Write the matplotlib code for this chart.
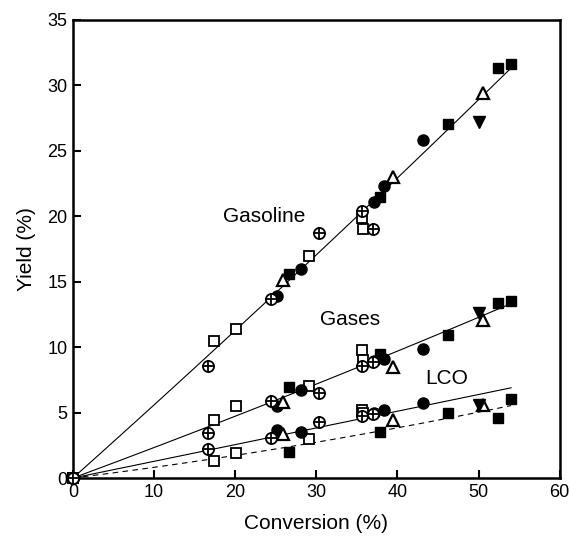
import numpy as np
import matplotlib.pyplot as plt

plt.rcParams['font.family'] = ['Liberation Sans', 'DejaVu Sans']

# conversion (%) and product yields (%) for each catalyst series
sq_open_conv = [0, 17.4, 20.1, 29.1, 35.6, 35.7]
sq_open_gasoline = [0, 10.5, 11.4, 17.0, 19.85, 19.0]
sq_open_gases = [0, 4.4, 5.5, 7.05, 9.78, 9.0]
sq_open_lco = [0, 1.33, 1.88, 2.95, 5.2, 5.0]

sq_fill_conv = [26.6, 37.8, 46.2, 52.4, 54.0]
sq_fill_gasoline = [15.55, 21.5, 27.05, 31.35, 31.6]
sq_fill_gases = [6.95, 9.5, 10.9, 13.4, 13.55]
sq_fill_lco = [2.0, 3.55, 4.94, 4.56, 6.0]

circ_conv = [25.1, 28.1, 37.1, 38.3, 43.2]
circ_gasoline = [13.9, 16.0, 21.1, 22.3, 25.8]
circ_gases = [5.53, 6.7, 8.95, 9.1, 9.83]
circ_lco = [3.67, 3.55, 5.0, 5.2, 5.7]

tri_conv = [25.9, 39.5, 50.6]
tri_gasoline = [15.1, 23.0, 29.4]
tri_gases = [5.83, 8.5, 12.1]
tri_lco = [3.33, 4.45, 5.6]

tri_dn_conv = [50.1]
tri_dn_gasoline = [27.2]
tri_dn_gases = [12.6]
tri_dn_lco = [5.6]

oplus_conv = [0, 16.6, 24.4, 30.3, 35.6, 37.0]
oplus_gasoline = [0, 8.56, 13.7, 18.7, 20.4, 19.05]
oplus_gases = [0, 3.46, 5.86, 6.47, 8.56, 8.9]
oplus_lco = [0, 2.2, 3.08, 4.3, 4.7, 4.9]


def fit_origin(xs, ys, deg=2):
    # polynomial without constant term, forced through the origin
    x = np.asarray(xs, float)
    y = np.asarray(ys, float)
    A = np.column_stack([x ** k for k in range(1, deg + 1)])
    coef, *_ = np.linalg.lstsq(A, y, rcond=None)
    return lambda t: sum(c * t ** (k + 1) for k, c in enumerate(coef))


fig = plt.figure(figsize=(5.70, 5.38), dpi=100)
ax = fig.add_axes([0.128, 0.1115, 0.854, 0.8515])

xx = np.linspace(0, 54, 200)

all_conv = sq_open_conv + sq_fill_conv + circ_conv + tri_conv + tri_dn_conv + oplus_conv
all_gasoline = sq_open_gasoline + sq_fill_gasoline + circ_gasoline + tri_gasoline + tri_dn_gasoline + oplus_gasoline
all_gases = sq_open_gases + sq_fill_gases + circ_gases + tri_gases + tri_dn_gases + oplus_gases

for ys in (all_gasoline, all_gases):
    f = fit_origin(all_conv, ys)
    ax.plot(xx, f(xx), color='black', lw=0.8)

# LCO: solid straight line through the upper group, dashed curve for the square series
lco_conv = circ_conv + tri_conv + tri_dn_conv + oplus_conv + sq_open_conv[4:]
lco_vals = circ_lco + tri_lco + tri_dn_lco + oplus_lco + sq_open_lco[4:]
f = fit_origin(lco_conv, lco_vals, deg=1)
ax.plot(xx, f(xx), color='black', lw=0.8)

dash_conv = sq_open_conv[:4] + sq_fill_conv
dash_vals = sq_open_lco[:4] + sq_fill_lco
f = fit_origin(dash_conv, dash_vals)
ax.plot(xx, f(xx), color='black', lw=0.8, ls=(0, (5, 4)))

kw = dict(ls='none', clip_on=False, zorder=3)
for ys_open, ys_fill, ys_circ, ys_tri, ys_dn, ys_op in [
        (sq_open_gasoline, sq_fill_gasoline, circ_gasoline, tri_gasoline, tri_dn_gasoline, oplus_gasoline),
        (sq_open_gases, sq_fill_gases, circ_gases, tri_gases, tri_dn_gases, oplus_gases),
        (sq_open_lco, sq_fill_lco, circ_lco, tri_lco, tri_dn_lco, oplus_lco)]:
    ax.plot(sq_open_conv, ys_open, marker='s', ms=7, mfc='white', mec='black', mew=1.3, **kw)
    ax.plot(sq_fill_conv, ys_fill, marker='s', ms=7, mfc='black', mec='black', **kw)
    ax.plot(circ_conv, ys_circ, marker='o', ms=8, mfc='black', mec='black', **kw)
    ax.plot(tri_conv, ys_tri, marker='^', ms=9, mfc='white', mec='black', mew=1.6, **kw)
    ax.plot(tri_dn_conv, ys_dn, marker='v', ms=9, mfc='black', mec='black', **kw)
    ax.plot(oplus_conv, ys_op, marker='o', ms=8, mfc='white', mec='black', mew=1.3, **kw)
    ax.plot(oplus_conv, ys_op, marker='+', ms=8, mec='black', mew=1.3, **kw)

ax.text(18.5, 20.0, 'Gasoline', fontsize=15, va='center', ha='left')
ax.text(30.4, 12.1, 'Gases', fontsize=15, va='center', ha='left')
ax.text(43.4, 7.6, 'LCO', fontsize=15, va='center', ha='left')

ax.set_xlim(0, 60)
ax.set_ylim(0, 35)
ax.set_xticks(range(0, 61, 10))
ax.set_yticks(range(0, 36, 5))
ax.tick_params(direction='in', length=6, width=1.5, labelsize=13, pad=4)
for s in ax.spines.values():
    s.set_linewidth(1.8)

ax.set_xlabel('Conversion (%)', fontsize=15, labelpad=10)
ax.set_ylabel('Yield (%)', fontsize=15, labelpad=8)

fig.savefig('out.png', dpi=100)
